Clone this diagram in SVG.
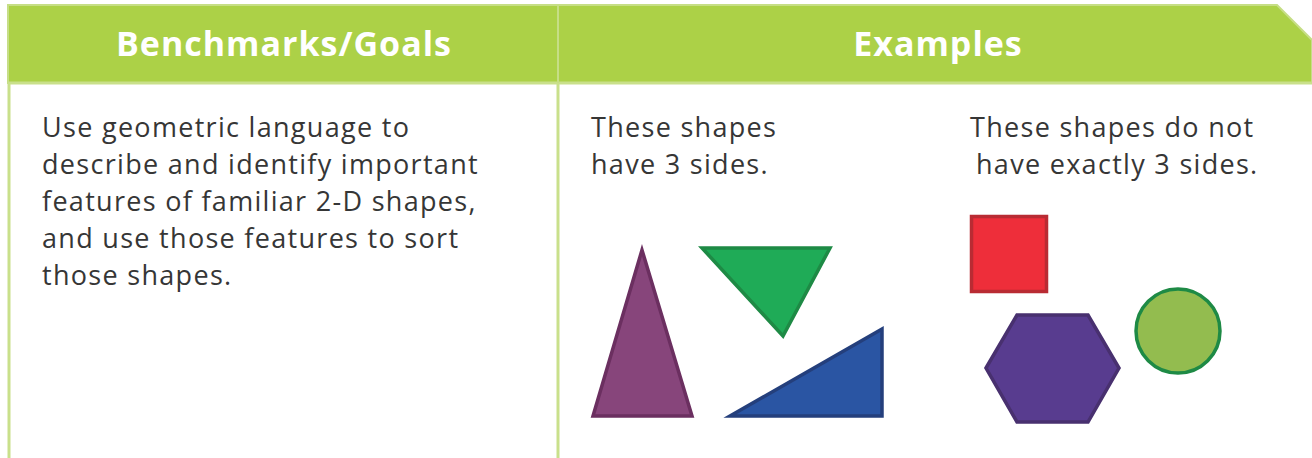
<svg xmlns="http://www.w3.org/2000/svg" width="1312" height="458" viewBox="0 0 1312 458">
<style>
.hdr{font-family:"Open Sans","Noto Sans","Liberation Sans",sans-serif;font-weight:bold;font-size:34px;letter-spacing:1px;fill:#ffffff;text-anchor:middle}
.body{font-family:"Open Sans","Noto Sans","Liberation Sans",sans-serif;font-size:27px;letter-spacing:1.3px;fill:#363636}
.rule{stroke:#c9e08b;stroke-width:3;fill:none}
</style>
<rect x="0" y="0" width="1312" height="458" fill="#ffffff"/>
<g id="header">
<path d="M8,5 H1277 L1312,40 V83 H8 Z" fill="#acd147" stroke="#c6de86" stroke-width="2"/>
<line x1="8" y1="83" x2="1312" y2="83" class="rule"/>
<line x1="558" y1="5" x2="558" y2="83" stroke="#c6de86" stroke-width="2"/>
<text class="hdr" x="284" y="56">Benchmarks/Goals</text>
<text class="hdr" x="938" y="56">Examples</text>
</g>
<g id="grid">
<line x1="9" y1="83" x2="9" y2="458" class="rule"/>
<line x1="558" y1="83" x2="558" y2="458" class="rule"/>
</g>
<g id="goals">
<text class="body" x="42" y="137">Use geometric language to</text>
<text class="body" x="42" y="174">describe and identify important</text>
<text class="body" x="42" y="211">features of familiar 2-D shapes,</text>
<text class="body" x="42" y="248">and use those features to sort</text>
<text class="body" x="42" y="285">those shapes.</text>
</g>
<g id="examples-yes">
<text class="body" x="591" y="137">These shapes</text>
<text class="body" x="591" y="174">have 3 sides.</text>
<polygon id="purple-triangle" points="642,250 593,416 692,416" fill="#87457b" stroke="#6b2f60" stroke-width="3.5" stroke-linejoin="miter"/>
<polygon id="green-triangle" points="702,248 830,248 783,336" fill="#1fab57" stroke="#1e8a45" stroke-width="3.5"/>
<polygon id="blue-triangle" points="730,416 882,416 882,329" fill="#2a55a3" stroke="#243f7c" stroke-width="3.5"/>
</g>
<g id="examples-no">
<text class="body" x="970" y="137">These shapes do not</text>
<text class="body" x="976" y="174">have exactly 3 sides.</text>
<rect id="red-square" x="971.5" y="216.5" width="75" height="75" fill="#ee2e3a" stroke="#b92b33" stroke-width="3.5"/>
<polygon id="purple-hexagon" points="986,368 1017,315 1088,315 1119,368 1088,422 1017,422" fill="#583c8f" stroke="#48306f" stroke-width="3.5"/>
<circle id="green-circle" cx="1178" cy="331" r="42" fill="#93bc4f" stroke="#1e8a45" stroke-width="3.5"/>
</g>
</svg>
